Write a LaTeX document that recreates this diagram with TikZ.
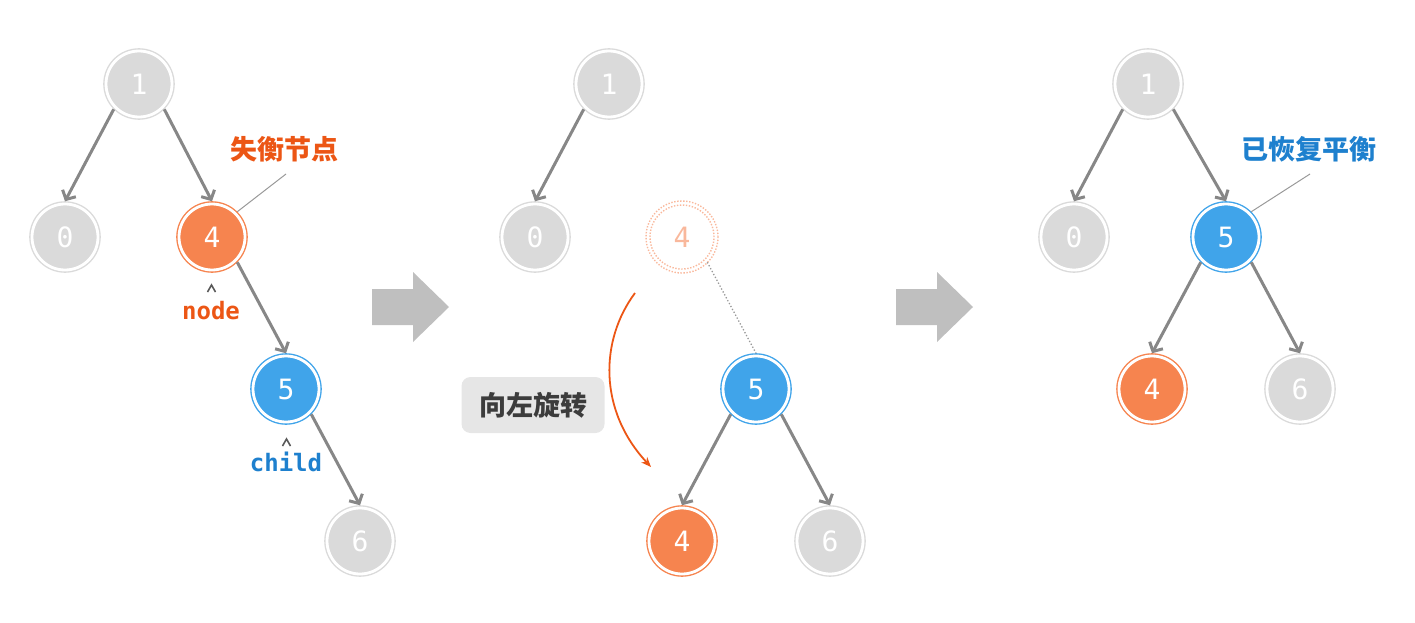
\documentclass[tikz,border=0pt]{standalone}
\usepackage{fontspec}
\newfontfamily\cjk{Noto Sans CJK SC}
\newfontfamily\mono{DejaVu Sans Mono}
\usetikzlibrary{arrows.meta}
\definecolor{ngray}{HTML}{DADADA}
\definecolor{norange}{HTML}{F6844F}
\definecolor{nblue}{HTML}{40A4EA}
\definecolor{torange}{HTML}{EC5615}
\definecolor{tblue}{HTML}{1E80CE}
\definecolor{egray}{HTML}{878787}
\definecolor{ghost}{HTML}{F9B89C}
\definecolor{boxgray}{HTML}{E6E6E6}
\definecolor{tdark}{HTML}{3C3C3C}
\definecolor{bigarrow}{HTML}{BFBFBF}
\definecolor{leadgray}{HTML}{999999}
\begin{document}
\begin{tikzpicture}[x=1pt,y=-1pt,
  tn/.style={circle, minimum size=66pt, inner sep=0pt, outer sep=2.75pt,
    draw=#1, double=white, double distance=2.8pt, line width=1.4pt, fill=#1,
    text=white, font=\mono\fontsize{28}{28}\selectfont},
  ghostnode/.style={circle, minimum size=66pt, inner sep=0pt, outer sep=2.75pt,
    text=ghost, font=\mono\fontsize{28}{28}\selectfont},
  ghostring/.style={draw=ghost, line width=1.4pt, dash pattern=on 1.4pt off 1.6pt},
  edge/.style={draw=egray, line width=3pt, -{Straight Barb[length=7pt,width=15pt,line width=3pt]}},
  lead/.style={draw=leadgray, line width=1pt},
  caret/.style={draw=tdark!85, line width=1.6pt, line join=miter},
  cjklab/.style={font=\cjk\bfseries\fontsize{27}{27}\selectfont},
  monolab/.style={font=\mono\bfseries\fontsize{24}{24}\selectfont},
  bigarr/.style={fill=bigarrow}
]
\useasboundingbox (0,0) rectangle (1415,623);

% ---------------- Tree 1 ----------------
\node[tn=ngray] (a1) at (139,84) {1};
\node[tn=ngray] (a0) at (65,237) {0};
\node[tn=norange] (a4) at (212,237) {4};
\node[tn=nblue] (a5) at (286,389) {5};
\node[tn=ngray] (a6) at (360,541) {6};
\draw[edge] (a1.south west) -- (a0.north);
\draw[edge] (a1.south east) -- (a4.north);
\draw[edge] (a4.south east) -- (a5.north);
\draw[edge] (a5.south east) -- (a6.north);

\node[cjklab, text=torange] (lab1) at (284,149) {失衡节点};
\coordinate (lab1end) at (286,174);
\draw[lead] (a4.north east) -- (lab1end);

\draw[caret] (207.5,292) -- (211.5,285) -- (215.5,292);
\node[monolab, text=torange] (nodelab) at (211,311) {node};

\draw[caret] (282.5,446) -- (286.5,439) -- (290.5,446);
\node[monolab, text=tblue] (childlab) at (286,462) {child};

% ---------------- Big arrow 1 ----------------
\fill[bigarr] (372,289) -- (413,289) -- (413,272) -- (449,307) -- (413,342) -- (413,325) -- (372,325) -- cycle;

% ---------------- Tree 2 ----------------
\node[tn=ngray] (b1) at (609,84) {1};
\node[tn=ngray] (b0) at (535,237) {0};
\node[ghostnode] (g4) at (682,237) {4};
\draw[ghostring] (g4.center) circle (32pt);
\draw[ghostring] (g4.center) circle (36pt);
\node[tn=nblue] (b5) at (756,389) {5};
\node[tn=norange] (b4) at (682,541) {4};
\node[tn=ngray] (b6) at (830,541) {6};
\draw[edge] (b1.south west) -- (b0.north);
\draw[edge] (b5.south west) -- (b4.north);
\draw[edge] (b5.south east) -- (b6.north);
\draw[draw=leadgray, line width=1.3pt, dotted] (g4.south east) -- (b5.north);

\node[fill=boxgray, rounded corners=9pt, minimum width=143pt, minimum height=56pt,
      cjklab, text=tdark] (rot) at (533,405) {向左旋转};
\coordinate (arcs) at (635,293);
\coordinate (arce) at (651,467);
\draw[draw=torange, line width=1.8pt, -{Stealth[length=10pt,width=8pt]}]
  (arcs) .. controls (600,340) and (598,410) .. (arce);

% ---------------- Big arrow 2 ----------------
\fill[bigarr] (896,289) -- (937,289) -- (937,272) -- (973,307) -- (937,342) -- (937,325) -- (896,325) -- cycle;

% ---------------- Tree 3 ----------------
\node[tn=ngray] (c1) at (1148,84) {1};
\node[tn=ngray] (c0) at (1074,237) {0};
\node[tn=nblue] (c5) at (1226,237) {5};
\node[tn=norange] (c4) at (1152,389) {4};
\node[tn=ngray] (c6) at (1300,389) {6};
\draw[edge] (c1.south west) -- (c0.north);
\draw[edge] (c1.south east) -- (c5.north);
\draw[edge] (c5.south west) -- (c4.north);
\draw[edge] (c5.south east) -- (c6.north);

\node[cjklab, text=tblue] (lab3) at (1309,149) {已恢复平衡};
\coordinate (lab3end) at (1310,174);
\draw[lead] (c5.north east) -- (lab3end);
\end{tikzpicture}
\end{document}
